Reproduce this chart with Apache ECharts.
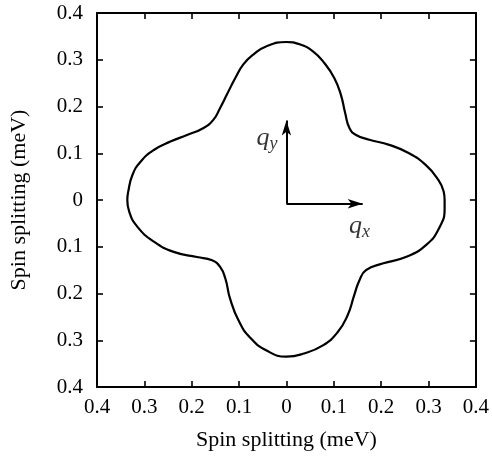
<!DOCTYPE html>
<html>
<head>
<meta charset="utf-8">
<script src="https://cdn.jsdelivr.net/npm/echarts@6/dist/echarts.min.js"></script>
<style>html,body{margin:0;padding:0;background:#fff}#c{width:492px;height:462px}</style>
</head>
<body>
<div id="c"></div>
<script>
// Contour of the spin splitting (meV), traced counter-clockwise from +qx
var curveX = [0.334, 0.332, 0.318, 0.294, 0.259, 0.217, 0.175, 0.147, 0.133, 0.124, 0.115, 0.101, 0.080, 0.056, 0.028, 0.000,
  -0.042, -0.070, -0.091, -0.108, -0.126, -0.140, -0.154, -0.175, -0.210, -0.245, -0.280, -0.308, -0.325, -0.334, -0.336,
  -0.332, -0.315, -0.280, -0.238, -0.189, -0.157, -0.140, -0.129, -0.119, -0.101, -0.077, -0.042, 0.000,
  0.035, 0.077, 0.108, 0.129, 0.143, 0.154, 0.168, 0.203, 0.252, 0.294, 0.322, 0.334, 0.334];
var curveY = [0.000, 0.018, 0.047, 0.075, 0.100, 0.118, 0.129, 0.139, 0.154, 0.186, 0.225, 0.261, 0.293, 0.318, 0.333, 0.338,
  0.329, 0.311, 0.290, 0.261, 0.225, 0.197, 0.172, 0.154, 0.139, 0.125, 0.107, 0.082, 0.054, 0.018, 0.000,
  -0.025, -0.057, -0.089, -0.111, -0.122, -0.129, -0.143, -0.168, -0.211, -0.258, -0.294, -0.322, -0.335,
  -0.329, -0.311, -0.283, -0.247, -0.204, -0.172, -0.150, -0.136, -0.122, -0.097, -0.061, -0.018, 0.000];
// Axis ticks
var tickValues = [-0.4, -0.3, -0.2, -0.1, 0, 0.1, 0.2, 0.3, 0.4];
// Arrow annotations: origin and tips (data units)
var arrowOrigin = [0, -0.008];
var arrowQxTip = [0.161, -0.008];
var arrowQyTip = [0, 0.170];
// Label anchors
var labelNames = ['qx', 'qy'];
var labelPos = [[0.154, -0.056], [-0.041, 0.133]];

var curveData = curveX.map(function (x, i) { return [x, curveY[i]]; });
var FONT = 'Liberation Serif';
function fmt(v) { var a = Math.abs(v); return a < 1e-9 ? '0' : a.toFixed(1); }

var axisCommon = {
  type: 'value', min: tickValues[0], max: tickValues[tickValues.length - 1], interval: 0.1,
  splitLine: { show: false },
  axisLine: { show: true, onZero: false, lineStyle: { color: '#000', width: 2 } },
  axisTick: { show: true, inside: true, length: 6, lineStyle: { color: '#000', width: 1.6 } }
};

var chart = echarts.init(document.getElementById('c'), null, { renderer: 'canvas' });
chart.setOption({
  animation: false,
  backgroundColor: '#fff',
  grid: { left: 96, top: 13, right: 15, bottom: 75, containLabel: false },
  xAxis: [
    Object.assign({}, axisCommon, {
      position: 'bottom',
      name: 'Spin splitting (meV)', nameLocation: 'middle', nameGap: 42,
      nameTextStyle: { fontFamily: FONT, fontSize: 22, color: '#000' },
      axisLabel: { formatter: fmt, fontFamily: FONT, fontSize: 21, color: '#000', margin: 10 }
    }),
    Object.assign({}, axisCommon, { position: 'top', axisLabel: { show: false } })
  ],
  yAxis: [
    Object.assign({}, axisCommon, {
      position: 'left',
      name: 'Spin splitting (meV)', nameLocation: 'middle', nameGap: 67,
      nameTextStyle: { fontFamily: FONT, fontSize: 22, color: '#000' },
      axisLabel: { formatter: fmt, fontFamily: FONT, fontSize: 21, color: '#000', margin: 14 }
    }),
    Object.assign({}, axisCommon, { position: 'right', axisLabel: { show: false } })
  ],
  series: [
    {
      type: 'line', data: curveData, smooth: 0.5, showSymbol: false, symbol: 'none',
      lineStyle: { color: '#000', width: 2.2 }, silent: true,
      markLine: {
        silent: true, symbol: ['none', 'arrow'], symbolSize: [7, 15],
        label: { show: false },
        lineStyle: { color: '#000', width: 2, type: 'solid' },
        data: [
          [{ coord: arrowOrigin }, { coord: arrowQxTip }],
          [{ coord: arrowOrigin }, { coord: arrowQyTip }]
        ]
      }
    },
    {
      type: 'scatter', symbolSize: 0, silent: true,
      data: labelPos.map(function (p, i) { return { value: p, name: labelNames[i] }; }),
      label: {
        show: true, position: 'inside',
        formatter: function (p) { return p.name === 'qx' ? '{q|q}{s|x}' : '{q|q}{s|y}'; },
        rich: {
          q: { fontFamily: FONT, fontStyle: 'italic', fontSize: 26, color: '#000' },
          s: { fontFamily: FONT, fontStyle: 'italic', fontSize: 18, color: '#000', padding: [13, 0, 0, 0] }
        }
      }
    }
  ]
});
</script>
</body>
</html>
